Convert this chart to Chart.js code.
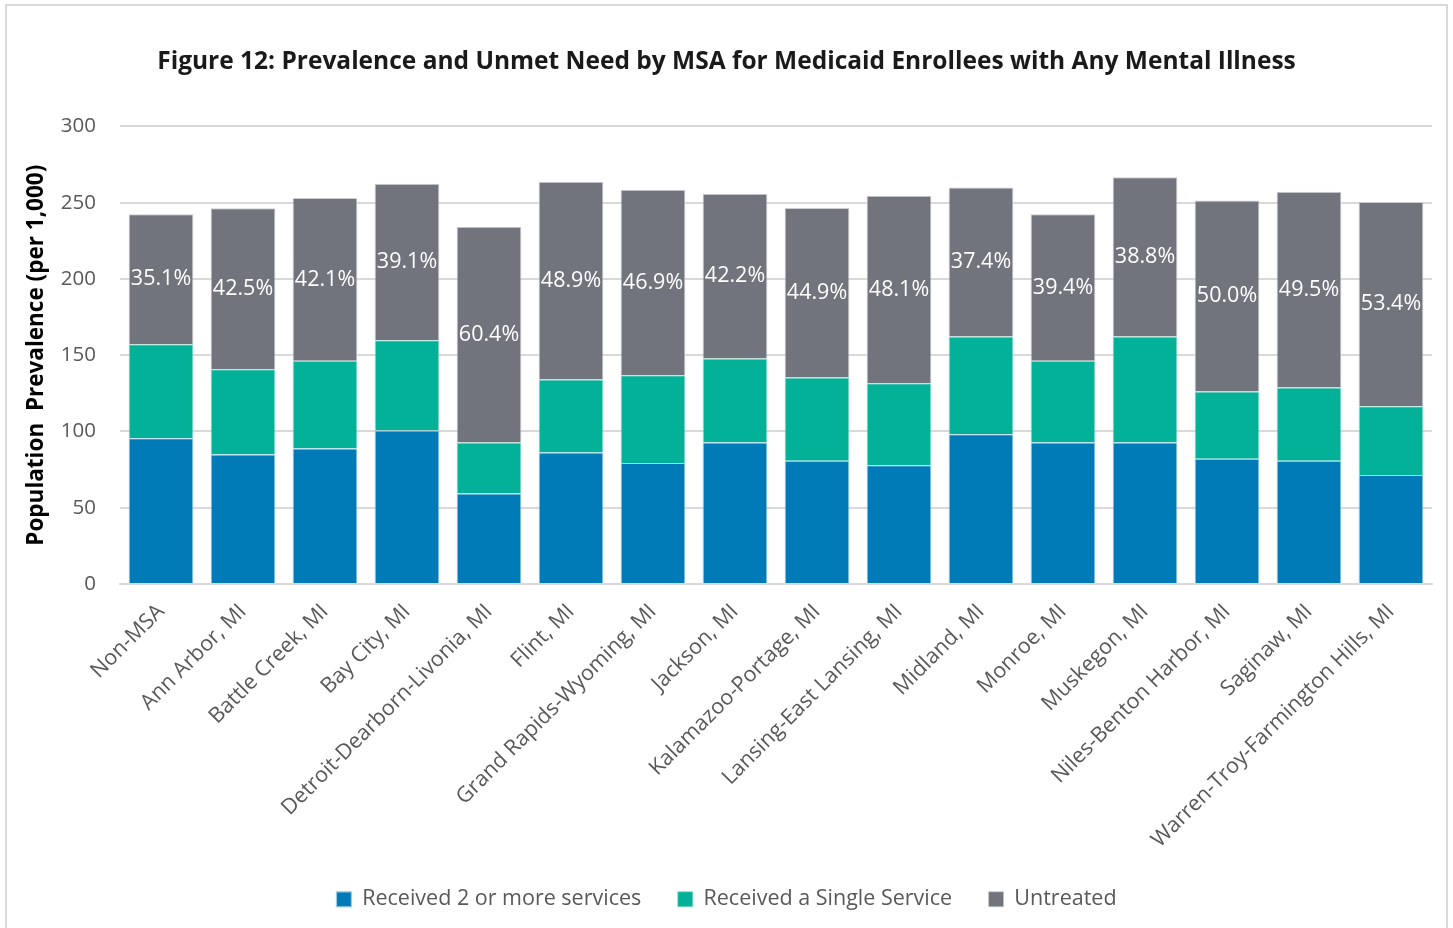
<!DOCTYPE html>
<html lang="en">
  <head>
    <meta charset="UTF-8" />
    <title>Figure 12: Prevalence and Unmet Need by MSA</title>
    <style>
      * {
        margin: 0;
        padding: 0;
      }
      body {
        background: #ffffff;
        overflow: hidden;
      }
      .chartBox {
        width: 1453px;
        height: 928px;
      }
    </style>
  </head>
  <body>
    <div class="chartBox">
      <canvas id="myChart"></canvas>
    </div>

    <script src="https://cdn.jsdelivr.net/npm/chart.js"></script>

    <script>
      // data block
      const msaLabels = [
        "Non-MSA",
        "Ann Arbor, MI",
        "Battle Creek, MI",
        "Bay City, MI",
        "Detroit-Dearborn-Livonia, MI",
        "Flint, MI",
        "Grand Rapids-Wyoming, MI",
        "Jackson, MI",
        "Kalamazoo-Portage, MI",
        "Lansing-East Lansing, MI",
        "Midland, MI",
        "Monroe, MI",
        "Muskegon, MI",
        "Niles-Benton Harbor, MI",
        "Saginaw, MI",
        "Warren-Troy-Farmington Hills, MI"
      ];
      const twoOrMore = [95.6, 84.9, 88.8, 100.6, 59.4, 86.2, 79.3, 92.8, 80.8, 77.9, 98.2, 92.8, 92.8, 82.1, 80.8, 71.4];
      const singleService = [61.6, 55.9, 57.5, 59.2, 33.4, 47.8, 57.6, 55.0, 54.5, 53.7, 64.0, 53.5, 69.4, 44.1, 48.0, 45.2];
      const untreated = [85.2, 105.5, 106.7, 102.6, 141.4, 129.7, 121.6, 108.1, 111.2, 123.0, 97.8, 96.1, 104.4, 125.3, 128.4, 133.8];
      const unmetPct = ["35.1%", "42.5%", "42.1%", "39.1%", "60.4%", "48.9%", "46.9%", "42.2%", "44.9%", "48.1%", "37.4%", "39.4%", "38.8%", "50.0%", "49.5%", "53.4%"];
      const yTicks = [0, 50, 100, 150, 200, 250, 300];

      const FONT = "'Open Sans', 'Noto Sans', sans-serif";

      const data = {
        labels: msaLabels,
        datasets: [
          {
            label: "Received 2 or more services",
            data: twoOrMore,
            backgroundColor: "#007BB7",
            borderColor: "rgba(160, 205, 230, 0.9)",
            borderWidth: { top: 1, left: 1, right: 1, bottom: 2 }
          },
          {
            label: "Received a Single Service",
            data: singleService,
            backgroundColor: "#02B197",
            borderColor: "rgba(140, 220, 205, 0.9)",
            borderWidth: { top: 1, left: 1, right: 1, bottom: 0 }
          },
          {
            label: "Untreated",
            data: untreated,
            backgroundColor: "#72747D",
            borderColor: "rgba(200, 201, 206, 0.9)",
            borderWidth: { top: 1, left: 1, right: 1, bottom: 0 }
          }
        ]
      };

      // frame round the whole figure
      const chartFrame = {
        id: "chartFrame",
        beforeDraw: (chart) => {
          const { ctx } = chart;
          ctx.save();
          ctx.strokeStyle = "#d9d9d9";
          ctx.lineWidth = 2;
          ctx.strokeRect(6, 5, 1441, 940);
          ctx.restore();
        }
      };

      // percent untreated, written in the middle of the grey segment
      const unmetLabels = {
        id: "unmetLabels",
        afterDatasetsDraw: (chart) => {
          const { ctx } = chart;
          const meta = chart.getDatasetMeta(2);
          if (meta.hidden) return;
          ctx.save();
          ctx.font = "21.5px " + FONT;
          ctx.fillStyle = "#ffffff";
          ctx.textAlign = "center";
          ctx.textBaseline = "middle";
          meta.data.forEach((bar, i) => {
            const midY = (bar.y + bar.base) / 2;
            ctx.fillText(unmetPct[i], bar.x, midY);
          });
          ctx.restore();
        }
      };

      // config block
      const config = {
        type: "bar",
        data,
        options: {
          responsive: true,
          maintainAspectRatio: false,
          animation: false,
          layout: {
            padding: { left: 0, right: 0, top: 0, bottom: 8 }
          },
          datasets: {
            bar: {
              barPercentage: 1,
              categoryPercentage: 0.79
            }
          },
          plugins: {
            title: {
              display: true,
              text: "Figure 12: Prevalence and Unmet Need by MSA for Medicaid Enrollees with Any Mental Illness",
              color: "#1a1a1a",
              font: { family: FONT, size: 24.5, weight: "bold" },
              padding: { top: 47, bottom: 50 }
            },
            legend: {
              position: "bottom",
              labels: {
                color: "#595959",
                font: { family: FONT, size: 21.5 },
                boxWidth: 15,
                boxHeight: 15,
                padding: 36.5
              }
            },
            tooltip: { enabled: false }
          },
          scales: {
            x: {
              stacked: true,
              grid: { display: false, drawTicks: false },
              border: { display: true, color: "#d9d9d9", width: 2 },
              ticks: {
                color: "#595959",
                font: { family: FONT, size: 21.5 },
                maxRotation: 45,
                minRotation: 45,
                padding: 15,
                autoSkip: false
              },
              afterFit: (scale) => {
                scale.height = 268;
              }
            },
            y: {
              stacked: true,
              min: 0,
              max: 300,
              afterBuildTicks: (scale) => {
                scale.ticks = yTicks.map((v) => ({ value: v }));
              },
              grid: { color: "#d9d9d9", lineWidth: 2, drawTicks: false },
              border: { display: false },
              ticks: {
                color: "#595959",
                font: { family: FONT, size: 20.5 },
                padding: 24
              },
              title: {
                display: true,
                text: "Population  Prevalence (per 1,000)",
                color: "#000000",
                font: { family: FONT, size: 22.5, weight: "bold" },
                padding: { top: 23, bottom: 0 }
              },
              afterFit: (scale) => {
                scale.width = 120;
              }
            },
            // empty right-hand axis, only keeps a margin so title and legend stay centred on the page
            spacer: {
              type: "linear",
              position: "right",
              min: 0,
              max: 300,
              grid: { display: false, drawTicks: false },
              border: { display: false },
              ticks: { display: false },
              afterFit: (scale) => {
                scale.width = 21;
              }
            }
          }
        },
        plugins: [chartFrame, unmetLabels]
      };

      // init render block
      const myChart = new Chart(document.getElementById("myChart"), config);
    </script>
  </body>
</html>
